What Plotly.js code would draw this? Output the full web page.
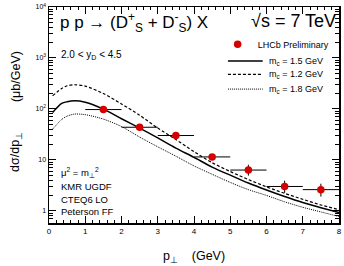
<!DOCTYPE html>
<html>
<head>
<meta charset="utf-8">
<script src="https://cdn.plot.ly/plotly-3.0.1.min.js"></script>
<style>html,body{margin:0;padding:0;background:#fff;}#plot{width:344px;height:266px;}</style>
</head>
<body>
<div id="plot"></div>
<script>
// LHCb preliminary data
var dataPt = [1.5, 2.5, 3.5, 4.5, 5.5, 6.5, 7.5];
var dataVal = [97, 43.6, 30, 11.4, 6.3, 3.0, 2.6];
var dataErrUp = [8, 4, 3, 1.5, 1.7, 0.9, 0.8];
var dataErrDn = [8, 4, 3, 1.4, 1.4, 0.75, 0.7];
var dataBinHalf = [0.5, 0.5, 0.5, 0.5, 0.5, 0.5, 0.5];

// Theory curves (KMR UGDF)
var curvePt = [0.1, 0.35, 0.5, 0.7, 1.0, 1.5, 2.0, 2.5, 3.0, 3.5, 4.0, 4.5, 5.0, 5.5, 6.0, 6.5, 7.0, 7.5, 8.0];
var mc15 = [85, 128, 138, 144, 135, 99, 64, 42, 27, 17, 11.2, 7.2, 5.0, 3.5, 2.55, 1.9, 1.45, 1.15, 0.92];
var mc12 = [181, 250, 285, 298, 280, 200, 125, 75, 42, 25, 14.5, 8.8, 5.9, 4.1, 2.95, 2.2, 1.68, 1.3, 1.05];
var mc18 = [40, 62, 72, 79, 77, 63, 45, 28, 18, 11.8, 7.6, 5.2, 3.6, 2.6, 2.0, 1.5, 1.17, 0.95, 0.77];

var curveNames = ["m<sub>c</sub> = 1.5 GeV", "m<sub>c</sub> = 1.2 GeV", "m<sub>c</sub> = 1.8 GeV"];
var yTickVals = [1, 10, 100, 1000, 10000];
var yTickText = ["1", "10", "10<sup>2</sup>", "10<sup>3</sup>", "10<sup>4</sup>"];
var xTickVals = [0, 1, 2, 3, 4, 5, 6, 7, 8];

var F = "Liberation Sans, Arial, Helvetica, sans-serif";
var NB = "\u00a0";
var styles = [
  {color: "#000", width: 1.5},
  {color: "#000", width: 1.2, dash: "3px,2px"},
  {color: "#000", width: 1, dash: "1px,1px"}
];
var curveVals = [mc15, mc12, mc18];

var traces = [];
for (var i = 0; i < 3; i++) {
  traces.push({x: curvePt, y: curveVals[i], mode: "lines", name: curveNames[i], showlegend: false,
    line: Object.assign({shape: "spline", smoothing: 0.8}, styles[i])});
}
traces.push({x: dataPt, y: dataVal, mode: "markers", name: "LHCb Preliminary",
   marker: {color: "#d40000", size: 7.5},
   error_x: {type: "data", array: dataBinHalf, color: "#000", thickness: 1, width: 0},
   error_y: {type: "data", symmetric: false, array: dataErrUp, arrayminus: dataErrDn, color: "#000", thickness: 1, width: 0}});

// manual legend for the curves (ROOT-style compact spacing)
var legY = [0.75, 0.688, 0.62];
var shapes = [], annots = [];
for (var j = 0; j < 3; j++) {
  shapes.push({type: "line", xref: "paper", yref: "paper", x0: 0.617, x1: 0.737, y0: legY[j], y1: legY[j],
               line: styles[j]});
  annots.push({xref: "paper", yref: "paper", x: 0.752, y: legY[j], xanchor: "left", yanchor: "middle",
               showarrow: false, text: curveNames[j], font: {size: 9, family: F}});
}

var layout = {
  width: 344, height: 266,
  margin: {l: 49, r: 5, t: 7, b: 43},
  paper_bgcolor: "#fff", plot_bgcolor: "#fff",
  font: {family: F, color: "#000", size: 9},
  showlegend: true,
  xaxis: {
    range: [0, 8], tickvals: xTickVals, ticks: "inside", ticklen: 7, tickwidth: 1, tickcolor: "#000",
    showline: true, linecolor: "#000", linewidth: 1.5, mirror: "ticks", showgrid: false, zeroline: false,
    tickfont: {size: 8, family: F},
    minor: {dtick: 0.2, ticks: "inside", ticklen: 3, tickcolor: "#000", showgrid: false},
    title: {text: "p<sub>⊥</sub>" + NB + NB + NB + NB + "(GeV)", font: {size: 12.5, family: F}, standoff: 16}
  },
  yaxis: {
    type: "log", range: [-0.24, 4], tickvals: yTickVals, ticktext: yTickText,
    ticks: "inside", ticklen: 7, tickwidth: 1, tickcolor: "#000",
    showline: true, linecolor: "#000", linewidth: 1.5, mirror: "ticks", showgrid: false, zeroline: false,
    tickfont: {size: 7, family: F},
    minor: {dtick: "D1", ticks: "inside", ticklen: 4, tickcolor: "#000", showgrid: false}
  },
  legend: {x: 0.985, y: 0.895, xanchor: "right", yanchor: "top", bgcolor: "rgba(0,0,0,0)",
           font: {size: 9, family: F}, itemwidth: 30},
  shapes: shapes,
  annotations: annots.concat([
    {xref: "paper", yref: "paper", x: -0.114, y: 0.329, xanchor: "center", yanchor: "middle", showarrow: false,
     textangle: -90, text: "dσ/dp<sub>⊥</sub>", font: {size: 12.5, family: F}},
    {xref: "paper", yref: "paper", x: -0.114, y: 0.68, xanchor: "center", yanchor: "middle", showarrow: false,
     textangle: -90, text: "(μb/GeV)", font: {size: 12.5, family: F}},
    {xref: "paper", yref: "paper", x: 0.03, y: 0.93, xanchor: "left", yanchor: "middle", showarrow: false,
     text: "p p → (D<sup>+</sup><sub>S</sub> + D<sup>-</sup><sub>S</sub>) X", font: {size: 17, family: F}},
    {xref: "paper", yref: "paper", x: 0.998, y: 0.935, xanchor: "right", yanchor: "middle", showarrow: false,
     text: "√s = 7 TeV", font: {size: 18, family: F}},
    {xref: "paper", yref: "paper", x: 0.035, y: 0.78, xanchor: "left", yanchor: "middle", showarrow: false,
     text: "2.0 < y<sub>D</sub> < 4.5", font: {size: 10, family: F}},
    {xref: "paper", yref: "paper", x: 0.035, y: 0.236, xanchor: "left", yanchor: "middle", showarrow: false,
     text: "μ<sup>2</sup> = m<sub>⊥</sub><sup>2</sup>", font: {size: 9.5, family: F}},
    {xref: "paper", yref: "paper", x: 0.035, y: 0.171, xanchor: "left", yanchor: "middle", showarrow: false,
     text: "KMR UGDF", font: {size: 9.5, family: F}},
    {xref: "paper", yref: "paper", x: 0.035, y: 0.111, xanchor: "left", yanchor: "middle", showarrow: false,
     text: "CTEQ6 LO", font: {size: 9.5, family: F}},
    {xref: "paper", yref: "paper", x: 0.035, y: 0.051, xanchor: "left", yanchor: "middle", showarrow: false,
     text: "Peterson FF", font: {size: 9.5, family: F}}
  ])
};

Plotly.newPlot("plot", traces, layout, {displayModeBar: false, staticPlot: true});
</script>
</body>
</html>
